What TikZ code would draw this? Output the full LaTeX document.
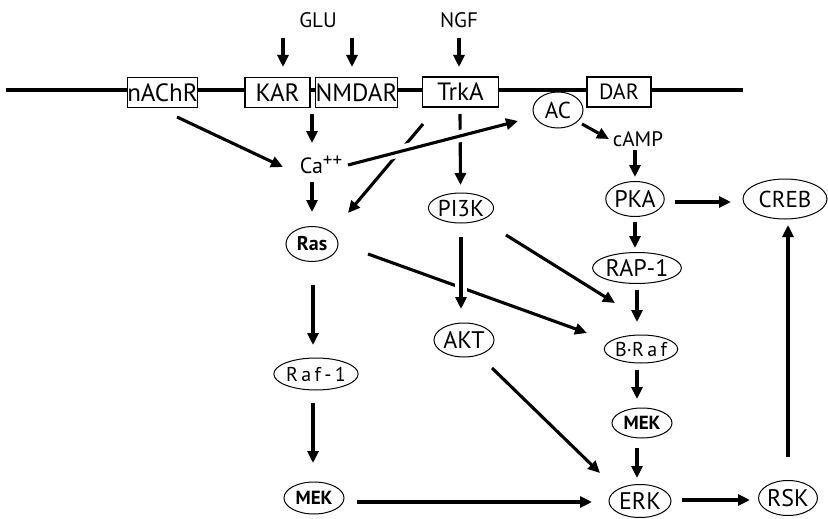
\documentclass[tikz,border=0pt]{standalone}
\usepackage{fontspec}
\setmainfont{PT Sans}
\usetikzlibrary{shapes.geometric,arrows.meta}
\begin{document}
\begin{tikzpicture}[x=1pt,y=-1pt,
  fsz/.style={font=\fontsize{#1}{#1}\selectfont},
  bsz/.style={font=\fontsize{#1}{#1}\selectfont\bfseries},
  recep/.style={draw, line width=1.2pt, fill=white, minimum height=30pt, inner sep=0pt},
  mol/.style={draw, ellipse, line width=1pt, fill=white, inner sep=0pt},
  lbl/.style={inner sep=0pt},
  arr/.style={line width=3.1pt, -{Triangle[length=12pt,width=11pt]}},
  bridge/.style={draw=white, line width=12pt},
]
\fill[white] (0,0) rectangle (828,519);

% membrane
\coordinate (memL) at (6,90);
\coordinate (memR) at (743,90);
\draw[line width=4.5pt] (memL) -- (memR);

% ligands
\node[lbl, fsz=21] (glu) at (318,20) {GLU};
\node[lbl, fsz=21] (ngf) at (459,20) {NGF};

% receptors in the membrane
\node[recep, fsz=25, minimum width=65pt] (nachr) at (162.5,92.5) {nAChR};
\node[recep, fsz=25, minimum width=65pt] (kar)   at (277.5,92.5) {KAR};
\node[recep, fsz=25, minimum width=77pt] (nmdar) at (356.5,92.5) {NMDAR};
\node[recep, fsz=25, minimum width=76pt] (trka)  at (460.5,92) {TrkA};
\node[recep, fsz=22, minimum width=64pt] (dar)   at (619,92) {DAR};

% second messengers
\node[lbl, fsz=22] (ca)   at (321,165) {Ca\raisebox{7pt}{\fontsize{19}{19}\selectfont ++}};
\node[lbl, fsz=21] (camp) at (638,139) {cAMP};

% signalling molecules
\node[mol, fsz=23, minimum width=50pt, minimum height=36pt] (ac)   at (558,110) {AC};
\node[mol, fsz=24, minimum width=54pt, minimum height=35pt] (pka)  at (635,199) {PKA};
\node[mol, fsz=23, minimum width=84pt, minimum height=40pt] (creb) at (785,199) {CREB};
\node[mol, fsz=24, minimum width=60pt, minimum height=31pt] (rap)  at (637,268) {RAP-1};
\node[mol, fsz=23, minimum width=58pt, minimum height=30pt] (pi3k) at (461,208) {PI3K};
\node[mol, bsz=20, minimum width=52pt, minimum height=35pt] (ras)  at (312,244) {Ras};
\node[mol, fsz=24, minimum width=60pt, minimum height=34pt] (akt)  at (464,340) {AKT};
\node[mol, fsz=20, minimum width=62pt, minimum height=32pt] (raf1) at (316,374) {R\,a\,f\,-\,1};
\node[mol, bsz=19, minimum width=60pt, minimum height=32pt] (mekl) at (314,498) {MEK};
\node[mol, fsz=20, minimum width=62pt, minimum height=28pt] (braf) at (641,349) {B·R\,a\,f};
\node[mol, bsz=19, minimum width=60pt, minimum height=30pt] (mekr) at (642,423) {MEK};
\node[mol, fsz=24, minimum width=62pt, minimum height=33pt] (erk)  at (640,501) {ERK};
\node[mol, fsz=24, minimum width=58pt, minimum height=35pt] (rsk)  at (788,498) {RSK};

% ligand binding
\draw[arr] ([shift={(-35,18)}]glu.center) -- ([shift={(5.5,-25.5)}]kar.center);
\draw[arr] ([shift={(34,18)}]glu.center) -- ([shift={(-4.5,-25.5)}]nmdar.center);
\draw[arr] ([shift={(0,18)}]ngf.center) -- ([shift={(-1.5,-25)}]trka.center);

% lines that are crossed by others
\draw[arr] ([shift={(56,10)}]ras.center) -- ([shift={(-54,-16)}]braf.center);
\draw[arr] ([shift={(-37.5,32)}]trka.center) -- ([shift={(36,-31)}]ras.center);
\draw[arr] ([shift={(-0.5,22)}]trka.center) -- ([shift={(-0.5,-23)}]pi3k.center);

% white gaps where lines pass over
\draw[bridge] ([shift={(50,-6.5)}]ca.center) -- ([shift={(-70,19)}]ac.center);
\draw[bridge] ([shift={(0,45)}]pi3k.center) -- ([shift={(-3,-47)}]akt.center);

% calcium branch
\draw[arr] ([shift={(14.5,24.5)}]nachr.center) -- ([shift={(-38,2)}]ca.center);
\draw[arr] ([shift={(34.5,21.5)}]kar.center) -- ([shift={(-9,-22)}]ca.center);
\draw[arr] ([shift={(-9,17)}]ca.center) -- ([shift={(0,-32)}]ras.center);
\draw[arr] ([shift={(27,0)}]ca.center) -- ([shift={(-40,11)}]ac.center);

% cAMP / PKA branch
\draw[arr] ([shift={(24,14)}]ac.center) -- ([shift={(-29,0)}]camp.center);
\draw[arr] ([shift={(-3,11)}]camp.center) -- ([shift={(0,-22)}]pka.center);
\draw[arr] ([shift={(40,3)}]pka.center) -- ([shift={(-54,3)}]creb.center);
\draw[arr] ([shift={(0,23)}]pka.center) -- ([shift={(-2,-20)}]rap.center);
\draw[arr] ([shift={(0,22)}]rap.center) -- ([shift={(-4,-27)}]braf.center);
\draw[arr] ([shift={(-4,21)}]braf.center) -- ([shift={(-5,-24)}]mekr.center);
\draw[arr] ([shift={(-5,25)}]mekr.center) -- ([shift={(-3,-23)}]erk.center);

% PI3K branch
\draw[arr] ([shift={(0,29)}]pi3k.center) -- ([shift={(-3,-31)}]akt.center);
\draw[arr] ([shift={(45,27)}]pi3k.center) -- ([shift={(-26,-46)}]braf.center);
\draw[arr] ([shift={(28,28)}]akt.center) -- ([shift={(-40,-28)}]erk.center);

% Ras / Raf-1 branch
\draw[arr] ([shift={(1,41)}]ras.center) -- ([shift={(-3,-29)}]raf1.center);
\draw[arr] ([shift={(-3,29)}]raf1.center) -- ([shift={(-1,-35)}]mekl.center);
\draw[arr] ([shift={(43,4)}]mekl.center) -- ([shift={(-48,1)}]erk.center);

% ERK to CREB
\draw[arr] ([shift={(42,-1)}]erk.center) -- ([shift={(-38,2)}]rsk.center);
\draw[arr] ([shift={(0,-41)}]rsk.center) -- ([shift={(3,26)}]creb.center);
\end{tikzpicture}
\end{document}
